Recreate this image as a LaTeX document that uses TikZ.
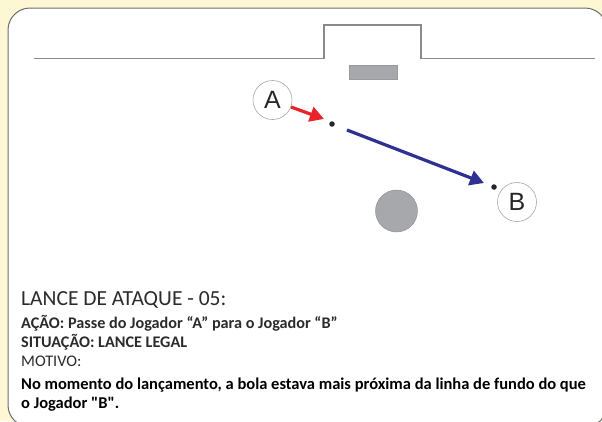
\documentclass[tikz,border=0pt]{standalone}
\usepackage{fontspec}
\setmainfont{Carlito}[Ligatures=TeXOff]
\newfontfamily\letterfont{Liberation Sans}
\usetikzlibrary{arrows.meta}
\definecolor{bgyellow}{HTML}{FDF8D3}
\definecolor{panelborder}{HTML}{6D6D6D}
\definecolor{fieldline}{HTML}{8A8A8A}
\definecolor{ballgray}{HTML}{A7A8AB}
\definecolor{redarrow}{HTML}{E8242A}
\definecolor{bluearrow}{HTML}{2E3192}
\definecolor{textgray}{HTML}{2B2B2B}
\tikzset{
  player/.style={circle, draw=gray!70, line width=0.6pt, fill=white, minimum size=39pt, inner sep=0pt, font=\letterfont\fontsize{25}{25}\selectfont, text=black!85},
  dotmark/.style={circle, fill=black!85, minimum size=5.5pt, inner sep=0pt},
  pass/.style={line width=3.2pt, -{Triangle[length=14pt, width=15pt]}},
  field/.style={draw=fieldline, line width=1.4pt},
  txt/.style={anchor=base west, inner sep=0pt, text=textgray},
}
\begin{document}
\begin{tikzpicture}[x=1pt, y=-1pt]
\useasboundingbox (0,0) rectangle (602,421);
\fill[bgyellow] (0,0) rectangle (602,421);
\begin{scope}
\clip (0,0) rectangle (602,421);
\draw[panelborder, fill=white, line width=1pt, rounded corners=22pt] (8,8) rectangle (607,427);
\end{scope}
% goal line and goal
\draw[field] (34,58.5) -- (324,58.5) -- (324,25) -- (421,25) -- (421,58.5) -- (595,58.5);
\node[draw=gray!80, fill=ballgray, minimum width=48pt, minimum height=14pt, inner sep=0pt] (goalbox) at (373,72) {};
% players and ball
\node[player] (A) at (272.5,100) {A};
\node[player] (B) at (517,202) {B};
\node[dotmark] (dA) at (332,124) {};
\node[dotmark] (dB) at (494,187) {};
\node[circle, fill=ballgray, draw=gray!90, line width=0.4pt, minimum size=42pt, inner sep=0pt] (ball) at (396.5,211) {};
\coordinate (rs) at (291,107);
\coordinate (rt) at (324,119);
\coordinate (bs) at (347,130);
\coordinate (bt) at (484,183);
\draw[pass, redarrow] (rs) -- (rt);
\draw[pass, bluearrow] (bs) -- (bt);
% text
\node[txt, font=\fontsize{21.5}{21.5}\selectfont] (t1) at (21,305) {LANCE DE ATAQUE - 05:};
\node[txt, font=\bfseries\fontsize{16.2}{16.2}\selectfont] (t2) at (21,328) {AÇÃO: Passe do Jogador “A” para o Jogador “B”};
\node[txt, font=\bfseries\fontsize{16.2}{16.2}\selectfont] (t3) at (21,347) {SITUAÇÃO: LANCE LEGAL};
\node[txt, font=\fontsize{16.2}{16.2}\selectfont] (t4) at (21,366) {MOTIVO:};
\node[txt, text=black, font=\bfseries\fontsize{16.5}{16.5}\selectfont] (t5) at (21,389) {No momento do lançamento, a bola estava mais próxima da linha de fundo do que};
\node[txt, text=black, font=\bfseries\fontsize{16.5}{16.5}\selectfont] (t6) at (21,408) {o Jogador "B".};
\end{tikzpicture}
\end{document}
